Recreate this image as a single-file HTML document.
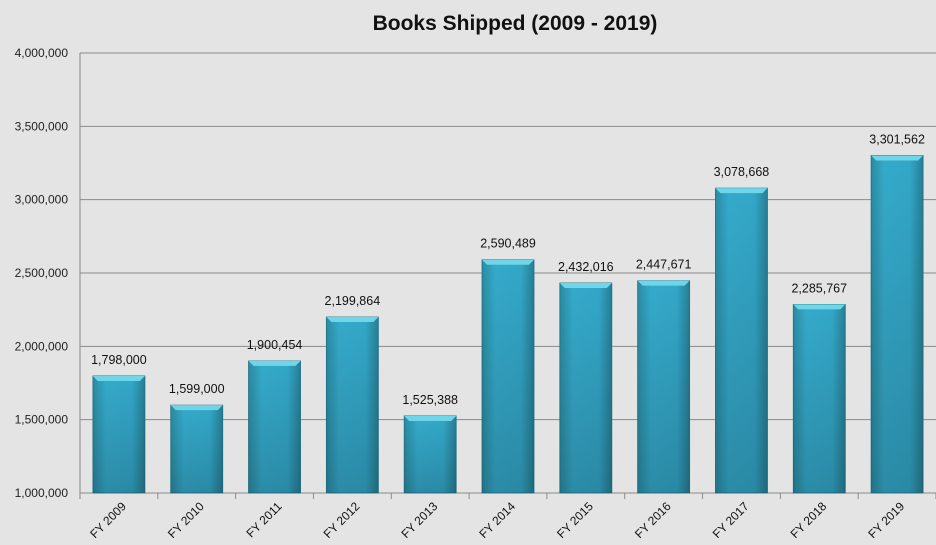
<!DOCTYPE html>
<html><head><meta charset="utf-8"><style>
body{margin:0;background:#e4e4e4;}
svg{display:block;font-family:"Liberation Sans",sans-serif;}
</style></head><body>
<svg id="chart" width="936" height="545" viewBox="0 0 936 545">
<defs>
<linearGradient id="bg" x1="0" y1="0" x2="1" y2="0">
<stop offset="0" stop-color="#2a8ca3"/><stop offset="0.25" stop-color="#35aacb"/><stop offset="0.75" stop-color="#33a7c8"/><stop offset="1" stop-color="#267f95"/>
</linearGradient>
<linearGradient id="bv" x1="0" y1="0" x2="0" y2="1">
<stop offset="0" stop-color="#000" stop-opacity="0"/><stop offset="1" stop-color="#000" stop-opacity="0.18"/>
</linearGradient>
</defs>
<rect width="936" height="545" fill="#e4e4e4"/>
<text x="515" y="30" text-anchor="middle" font-size="21" font-weight="bold" fill="#111">Books Shipped (2009 - 2019)</text>
<g id="grid"></g><g id="bars"></g><g id="labels"></g>
</svg>
<script>
const categories=["FY 2009","FY 2010","FY 2011","FY 2012","FY 2013","FY 2014","FY 2015","FY 2016","FY 2017","FY 2018","FY 2019"];
const values=[1798000,1599000,1900454,2199864,1525388,2590489,2432016,2447671,3078668,2285767,3301562];
const ticks=[1000000,1500000,2000000,2500000,3000000,3500000,4000000];
const NS="http://www.w3.org/2000/svg";
const x0=80,x1=936,yTop=53,yBot=493,vMin=1000000,vMax=4000000;
const y=v=>yBot-(v-vMin)/(vMax-vMin)*(yBot-yTop);
const bw=(x1-x0)/categories.length;
const fmt=v=>v.toLocaleString("en-US");
function mk(t,a,p){const e=document.createElementNS(NS,t);for(const k in a)e.setAttribute(k,a[k]);p.appendChild(e);return e;}
const g=document.getElementById("grid"),b=document.getElementById("bars"),l=document.getElementById("labels");
ticks.forEach(t=>{
 const ln=mk("line",{x1:x0,x2:x1,y1:y(t),y2:y(t),stroke:"#8a8a8a","stroke-width":1},g);
 
 
 const tx=mk("text",{x:x0-12,y:y(t)+4,"text-anchor":"end","font-size":12,fill:"#222"},g);
 tx.textContent=fmt(t);
 
 
});
const ax=mk("line",{x1:x0,x2:x0,y1:yTop,y2:yBot+6,stroke:"#8a8a8a"},g);


for(let i=0;i<=categories.length;i++){
 const tk=mk("line",{x1:x0+i*bw,x2:x0+i*bw,y1:yBot,y2:yBot+6,stroke:"#8a8a8a"},g);
 
 
}
categories.forEach((c,i)=>{
 const cx=x0+(i+0.5)*bw,w=52,top=y(values[i]);
 const r=mk("rect",{x:cx-w/2,y:top,width:w,height:yBot-top,fill:"url(#bg)",stroke:"#1f6f82","stroke-width":0.8},b);
 
 
 mk("rect",{x:cx-w/2,y:top,width:w,height:yBot-top,fill:"url(#bv)"},b);
 mk("polygon",{points:`${cx-w/2},${top} ${cx+w/2},${top} ${cx+w/2-5},${top+5} ${cx-w/2+5},${top+5}`,fill:"#6fd6ea"},b);
 const vt=mk("text",{x:cx,y:top-12,"text-anchor":"middle","font-size":12.5,fill:"#111"},l);
 vt.textContent=fmt(values[i]);
 
 
 const xt=mk("text",{x:cx+8,y:yBot+14,"text-anchor":"end","font-size":12,fill:"#111",transform:`rotate(-45 ${cx+8} ${yBot+14})`},l);
 xt.textContent=c;
 
 
});
</script>
</body></html>
